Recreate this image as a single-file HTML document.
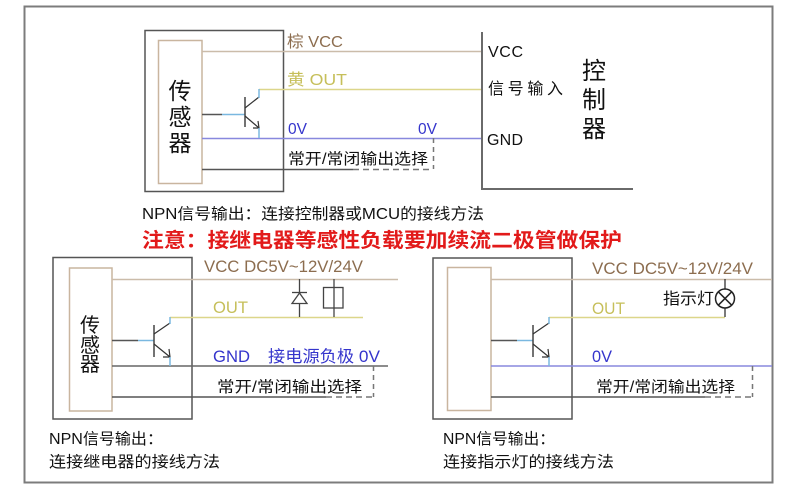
<!DOCTYPE html>
<html><head><meta charset="utf-8"><style>
html,body{margin:0;padding:0;background:#fff;}
svg{display:block;}
text{font-family:"Liberation Sans","Noto Sans CJK SC",sans-serif;}
</style></head><body>
<svg width="790" height="490" viewBox="0 0 790 490" xmlns="http://www.w3.org/2000/svg">
<rect x="0" y="0" width="790" height="490" fill="#fff"/>
<!-- outer border -->
<rect x="24.5" y="6.5" width="748" height="476" fill="none" stroke="#7c7c7c" stroke-width="2"/>

<!-- ===== TOP DIAGRAM ===== -->
<rect x="145" y="30.5" width="138.5" height="161" fill="none" stroke="#555" stroke-width="1.5"/>
<rect x="158.5" y="40.5" width="43.5" height="143" fill="#fff" stroke="#c9b59f" stroke-width="1.5"/>
<text x="180" y="99" font-size="23" text-anchor="middle" fill="#111">传</text>
<text x="180" y="125" font-size="23" text-anchor="middle" fill="#111">感</text>
<text x="180" y="151" font-size="23" text-anchor="middle" fill="#111">器</text>
<!-- lines -->
<line x1="202" y1="51.5" x2="482" y2="51.5" stroke="#cbbcaa" stroke-width="1.5"/>
<line x1="259" y1="89.5" x2="482" y2="89.5" stroke="#dcd68a" stroke-width="1.5"/>
<line x1="202" y1="138.5" x2="482" y2="138.5" stroke="#8888de" stroke-width="1.5"/>
<line x1="202" y1="169.5" x2="353" y2="169.5" stroke="#555" stroke-width="1.5"/>
<line x1="353" y1="169.5" x2="433" y2="169.5" stroke="#777" stroke-width="1.5" stroke-dasharray="6,4"/>
<line x1="433.5" y1="138" x2="433.5" y2="169" stroke="#777" stroke-width="1.5" stroke-dasharray="5,4"/>
<!-- transistor -->
<line x1="202" y1="114.5" x2="222" y2="114.5" stroke="#555" stroke-width="1.5"/>
<line x1="222" y1="114.5" x2="245" y2="114.5" stroke="#7ab8e0" stroke-width="1.5"/>
<line x1="245" y1="97" x2="245" y2="127" stroke="#444" stroke-width="1.5"/>
<line x1="245" y1="108" x2="259" y2="97" stroke="#333" stroke-width="1.2"/>
<line x1="259" y1="89" x2="259" y2="98" stroke="#7ab8e0" stroke-width="1.5"/>
<line x1="245" y1="116" x2="259" y2="128" stroke="#333" stroke-width="1.2"/>
<polyline points="253,128 259,128 258,121" fill="none" stroke="#333" stroke-width="1.2"/>
<line x1="259" y1="128" x2="259" y2="138" stroke="#7ab8e0" stroke-width="1.5"/>
<!-- labels -->
<text x="287" y="47" font-size="16" fill="#8c6d4f" textLength="56" lengthAdjust="spacingAndGlyphs">棕 VCC</text>
<text x="287" y="85" font-size="16" fill="#c6bf5a" textLength="60" lengthAdjust="spacingAndGlyphs">黄 OUT</text>
<text x="288" y="134" font-size="16" fill="#3535cc" textLength="19" lengthAdjust="spacingAndGlyphs">0V</text>
<text x="418" y="134" font-size="16" fill="#3535cc" textLength="19" lengthAdjust="spacingAndGlyphs">0V</text>
<text x="288" y="164" font-size="15.5" fill="#111" textLength="140" lengthAdjust="spacingAndGlyphs">常开/常闭输出选择</text>
<!-- controller -->
<line x1="482" y1="32" x2="482" y2="190" stroke="#6a6a6a" stroke-width="2"/>
<line x1="481" y1="189" x2="633" y2="189" stroke="#6a6a6a" stroke-width="2"/>
<text x="488" y="57" font-size="16" fill="#111" textLength="35" lengthAdjust="spacing">VCC</text>
<text x="488" y="94" font-size="16" fill="#111" textLength="75" lengthAdjust="spacing">信号输入</text>
<text x="487" y="145" font-size="16" fill="#111" textLength="36" lengthAdjust="spacing">GND</text>
<text x="594" y="79" font-size="24" text-anchor="middle" fill="#111">控</text>
<text x="594" y="108" font-size="24" text-anchor="middle" fill="#111">制</text>
<text x="594" y="137" font-size="24" text-anchor="middle" fill="#111">器</text>

<!-- captions -->
<text x="142" y="219" font-size="15.5" fill="#111" textLength="342" lengthAdjust="spacingAndGlyphs">NPN信号输出：连接控制器或MCU的接线方法</text>
<text x="142" y="247" font-size="20" font-weight="bold" fill="#e21a1a" textLength="480" lengthAdjust="spacingAndGlyphs">注意：接继电器等感性负载要加续流二极管做保护</text>

<!-- ===== BOTTOM LEFT ===== -->
<rect x="53" y="257.5" width="139" height="161.5" fill="none" stroke="#555" stroke-width="1.5"/>
<rect x="69.5" y="268" width="42.5" height="143" fill="#fff" stroke="#c9b59f" stroke-width="1.5"/>
<text x="90" y="332" font-size="20" text-anchor="middle" fill="#111">传</text>
<text x="90" y="352" font-size="20" text-anchor="middle" fill="#111">感</text>
<text x="90" y="371" font-size="20" text-anchor="middle" fill="#111">器</text>
<line x1="112" y1="279.5" x2="398" y2="279.5" stroke="#cbbcaa" stroke-width="1.5"/>
<line x1="170" y1="317.5" x2="363" y2="317.5" stroke="#dcd68a" stroke-width="1.5"/>
<line x1="112" y1="366" x2="388" y2="366" stroke="#666" stroke-width="1.5"/>
<line x1="112" y1="397" x2="326" y2="397" stroke="#555" stroke-width="1.5"/>
<line x1="326" y1="397" x2="375" y2="397" stroke="#777" stroke-width="1.5" stroke-dasharray="6,4"/>
<line x1="373.5" y1="366" x2="373.5" y2="397" stroke="#777" stroke-width="1.5" stroke-dasharray="5,4"/>
<!-- transistor -->
<line x1="112" y1="340.5" x2="138" y2="340.5" stroke="#555" stroke-width="1.5"/>
<line x1="138" y1="340.5" x2="154" y2="340.5" stroke="#7ab8e0" stroke-width="1.5"/>
<line x1="154" y1="325" x2="154" y2="357" stroke="#444" stroke-width="1.5"/>
<line x1="154" y1="334" x2="170" y2="323" stroke="#333" stroke-width="1.2"/>
<line x1="170" y1="317" x2="170" y2="324" stroke="#7ab8e0" stroke-width="1.5"/>
<line x1="154" y1="344" x2="170" y2="357" stroke="#333" stroke-width="1.2"/>
<polyline points="163,357 170,357 169,349" fill="none" stroke="#333" stroke-width="1.2"/>
<line x1="170" y1="357" x2="170" y2="366" stroke="#7ab8e0" stroke-width="1.5"/>
<!-- diode -->
<line x1="299.5" y1="279" x2="299.5" y2="317" stroke="#444" stroke-width="1.3"/>
<line x1="292" y1="292.5" x2="307" y2="292.5" stroke="#444" stroke-width="1.3"/>
<polygon points="299.5,293 292,303.5 307,303.5" fill="#fff" stroke="#444" stroke-width="1.3"/>
<!-- relay -->
<line x1="334" y1="279" x2="334" y2="317" stroke="#444" stroke-width="1.3"/>
<rect x="323.5" y="287.5" width="19.5" height="20.5" fill="none" stroke="#444" stroke-width="1.3"/>
<!-- labels -->
<text x="204" y="272" font-size="16.5" fill="#8c6d4f" textLength="159" lengthAdjust="spacingAndGlyphs">VCC DC5V~12V/24V</text>
<text x="213" y="313" font-size="16.5" fill="#c6bf5a" textLength="35" lengthAdjust="spacingAndGlyphs">OUT</text>
<text x="213" y="362" font-size="16.5" fill="#3535cc" textLength="37" lengthAdjust="spacingAndGlyphs">GND</text>
<text x="268" y="362" font-size="16.5" fill="#3535cc" textLength="112" lengthAdjust="spacingAndGlyphs">接电源负极 0V</text>
<text x="217" y="392" font-size="15.5" fill="#111" textLength="145" lengthAdjust="spacingAndGlyphs">常开/常闭输出选择</text>
<text x="49" y="444" font-size="15.5" fill="#111" textLength="114" lengthAdjust="spacingAndGlyphs">NPN信号输出：</text>
<text x="49" y="467" font-size="15.5" fill="#111" textLength="171" lengthAdjust="spacingAndGlyphs">连接继电器的接线方法</text>

<!-- ===== BOTTOM RIGHT ===== -->
<rect x="433" y="258" width="139" height="161" fill="none" stroke="#555" stroke-width="1.5"/>
<rect x="447.5" y="267.5" width="43.5" height="143" fill="#fff" stroke="#c9b59f" stroke-width="1.5"/>
<line x1="491" y1="279.5" x2="772" y2="279.5" stroke="#cbbcaa" stroke-width="1.5"/>
<line x1="549" y1="317.5" x2="725" y2="317.5" stroke="#dcd68a" stroke-width="1.5"/>
<line x1="491" y1="366" x2="772" y2="366" stroke="#8888de" stroke-width="1.5"/>
<line x1="491" y1="397" x2="705" y2="397" stroke="#555" stroke-width="1.5"/>
<line x1="705" y1="397" x2="753" y2="397" stroke="#777" stroke-width="1.5" stroke-dasharray="6,4"/>
<line x1="752.5" y1="366" x2="752.5" y2="397" stroke="#777" stroke-width="1.5" stroke-dasharray="5,4"/>
<!-- transistor -->
<line x1="491" y1="340.5" x2="517" y2="340.5" stroke="#555" stroke-width="1.5"/>
<line x1="517" y1="340.5" x2="533" y2="340.5" stroke="#7ab8e0" stroke-width="1.5"/>
<line x1="533" y1="325" x2="533" y2="357" stroke="#444" stroke-width="1.5"/>
<line x1="533" y1="334" x2="549" y2="323" stroke="#333" stroke-width="1.2"/>
<line x1="549" y1="317" x2="549" y2="324" stroke="#7ab8e0" stroke-width="1.5"/>
<line x1="533" y1="344" x2="549" y2="357" stroke="#333" stroke-width="1.2"/>
<polyline points="542,357 549,357 548,349" fill="none" stroke="#333" stroke-width="1.2"/>
<line x1="549" y1="357" x2="549" y2="366" stroke="#7ab8e0" stroke-width="1.5"/>
<!-- lamp -->
<line x1="725" y1="279" x2="725" y2="289" stroke="#333" stroke-width="1.3"/>
<line x1="725" y1="308" x2="725" y2="317" stroke="#333" stroke-width="1.3"/>
<circle cx="725" cy="298.5" r="9.5" fill="#fff" stroke="#222" stroke-width="1.5"/>
<line x1="718.3" y1="291.8" x2="731.7" y2="305.2" stroke="#222" stroke-width="1.5"/>
<line x1="731.7" y1="291.8" x2="718.3" y2="305.2" stroke="#222" stroke-width="1.5"/>
<text x="663" y="304" font-size="16" fill="#111" textLength="51" lengthAdjust="spacingAndGlyphs">指示灯</text>
<!-- labels -->
<text x="592" y="274" font-size="16.5" fill="#8c6d4f" textLength="161" lengthAdjust="spacingAndGlyphs">VCC DC5V~12V/24V</text>
<text x="592" y="314" font-size="16.5" fill="#c6bf5a" textLength="33" lengthAdjust="spacingAndGlyphs">OUT</text>
<text x="592" y="362" font-size="16.5" fill="#3535cc" textLength="20" lengthAdjust="spacingAndGlyphs">0V</text>
<text x="596" y="392" font-size="15.5" fill="#111" textLength="139" lengthAdjust="spacingAndGlyphs">常开/常闭输出选择</text>
<text x="443" y="444" font-size="15.5" fill="#111" textLength="112" lengthAdjust="spacingAndGlyphs">NPN信号输出：</text>
<text x="443" y="467" font-size="15.5" fill="#111" textLength="171" lengthAdjust="spacingAndGlyphs">连接指示灯的接线方法</text>
</svg>
</body></html>
